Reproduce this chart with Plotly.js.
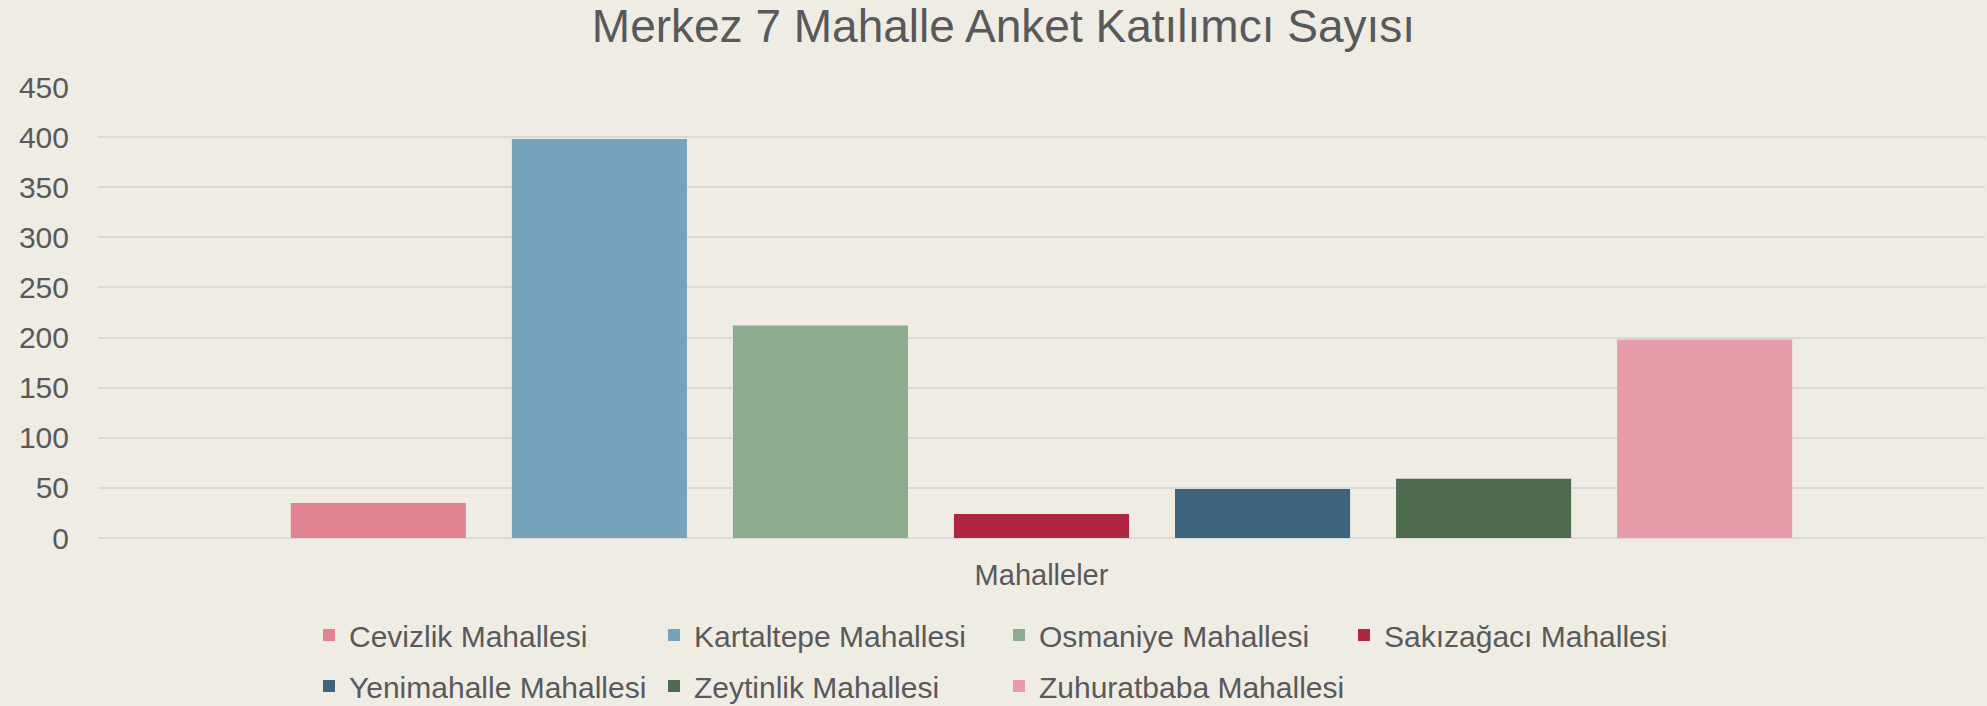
<!DOCTYPE html>
<html>
<head>
<meta charset="utf-8">
<script src="https://cdn.plot.ly/plotly-3.0.1.min.js"></script>
<style>
  html, body { margin: 0; padding: 0; background: #efece4; }
  #chart { width: 1987px; height: 706px; }
</style>
</head>
<body>
<div id="chart"></div>
<script>
const categories = ["Mahalleler"];
const seriesNames = [
  "Cevizlik Mahallesi",
  "Kartaltepe Mahallesi",
  "Osmaniye Mahallesi",
  "Sakızağacı Mahallesi",
  "Yenimahalle Mahallesi",
  "Zeytinlik Mahallesi",
  "Zuhuratbaba Mahallesi"
];
const seriesValues = [35, 398, 212, 24, 49, 59, 198];
const seriesColors = ["#e18393", "#76a2bc", "#8dab8e", "#b0253f", "#3d637d", "#4f6b4f", "#e89ba8"];
const legendGroupOf = ["legend", "legend", "legend", "legend", "legend2", "legend2", "legend2"];
const yTickVals = [0, 50, 100, 150, 200, 250, 300, 350, 400, 450];

const textColor = "#595959";
const fontFam = "'Liberation Sans', Arial, sans-serif";

const traces = seriesNames.map((name, i) => ({
  type: "bar",
  name: name,
  x: categories,
  y: [seriesValues[i]],
  marker: { color: seriesColors[i], line: { width: 0 } },
  legend: legendGroupOf[i],
  hoverinfo: "name+y"
}));

const legendCommon = {
  orientation: "h",
  xref: "container",
  yref: "container",
  x: 0.1555,
  xanchor: "left",
  yanchor: "middle",
  entrywidth: 300,
  entrywidthmode: "pixels",
  bgcolor: "rgba(0,0,0,0)",
  font: { family: fontFam, size: 30, color: textColor },
  traceorder: "normal"
};

const layout = {
  width: 1987,
  height: 706,
  paper_bgcolor: "#efece4",
  plot_bgcolor: "#efece4",
  margin: { l: 98, r: 2, t: 87, b: 168, pad: 0 },
  title: {
    text: "Merkez 7 Mahalle Anket Katılımcı Sayısı",
    font: { family: fontFam, size: 46, color: textColor },
    x: 0.505,
    xanchor: "center",
    xref: "container",
    yref: "container",
    y: 1 - 26 / 706,
    yanchor: "middle"
  },
  barmode: "group",
  bargap: 0.18,
  bargroupgap: 0.208,
  xaxis: {
    type: "category",
    showticklabels: false,
    ticks: "",
    showgrid: false,
    zeroline: false,
    showline: false,
    title: {
      text: "Mahalleler",
      font: { family: fontFam, size: 29, color: textColor },
      standoff: 26
    }
  },
  yaxis: {
    range: [0, 450],
    tickvals: yTickVals,
    ticktext: yTickVals.map(String),
    ticks: "",
    ticklabelstandoff: 28,
    tickfont: { family: fontFam, size: 30, color: textColor },
    showgrid: true,
    gridcolor: "#d9d9d9",
    gridwidth: 1.5,
    zeroline: true,
    zerolinecolor: "#d9d9d9",
    zerolinewidth: 1.5,
    showline: false,
    fixedrange: true
  },
  legend: Object.assign({}, legendCommon, { y: 1 - 635 / 706 }),
  legend2: Object.assign({}, legendCommon, { y: 1 - 686 / 706 }),
  showlegend: true
};

Plotly.newPlot("chart", traces, layout, { displayModeBar: false, responsive: false });
</script>
</body>
</html>
